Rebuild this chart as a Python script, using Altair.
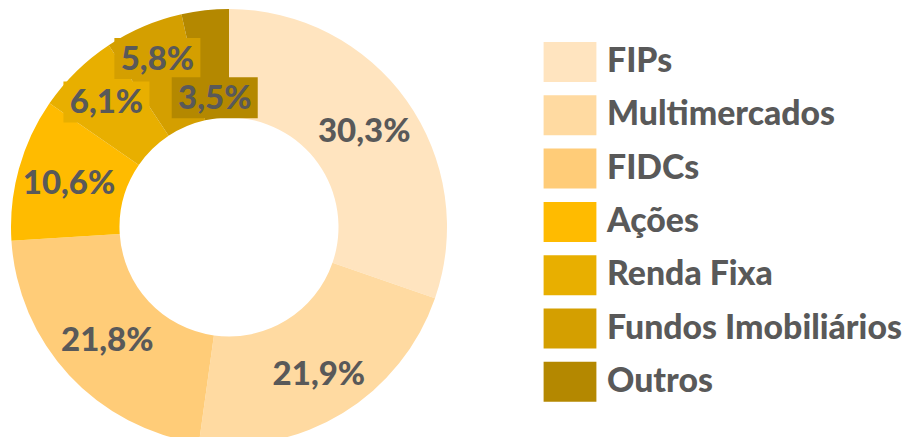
import math
import altair as alt
import pandas as pd

categories = ["FIPs", "Multimercados", "FIDCs", "Ações", "Renda Fixa", "Fundos Imobiliários", "Outros"]
values = [30.3, 21.9, 21.8, 10.6, 6.1, 5.8, 3.5]
labels = ["30,3%", "21,9%", "21,8%", "10,6%", "6,1%", "5,8%", "3,5%"]
label_radius = [166, 172, 166, 166, 175, 183, 130]
boxed = [False, False, False, False, True, True, True]
colors = ["#FFE4BF", "#FFDAA1", "#FFCC78", "#FFBB00", "#E8AF00", "#D49F00", "#B48800"]

CX, CY = 221, 219
R_OUT, R_IN = 218, 109.5
BOX_W, BOX_H = 86, 41

total = sum(values)
rows = []
cum = 0.0
for i, (c, v, lab, lr, bx) in enumerate(zip(categories, values, labels, label_radius, boxed)):
    mid = (cum + v / 2) / total * 2 * math.pi
    cum += v
    lx = CX + lr * math.sin(mid)
    ly = CY - lr * math.cos(mid)
    rows.append(dict(category=c, value=v, label=lab, idx=i, lx=lx, ly=ly,
                     bx1=lx - BOX_W / 2, bx2=lx + BOX_W / 2,
                     by1=ly - BOX_H / 2, by2=ly + BOX_H / 2, boxed=bx))
df = pd.DataFrame(rows)

color_scale = alt.Scale(domain=categories, range=colors)
rect_path = "M-1.32,-1H1.32V1H-1.32Z"

arcs = alt.Chart(df).mark_arc(innerRadius=R_IN, outerRadius=R_OUT, strokeWidth=0).encode(
    theta=alt.Theta("value:Q", stack=True),
    order=alt.Order("idx:Q"),
    color=alt.Color("category:N", scale=color_scale, sort=categories,
                    legend=alt.Legend(orient="none", legendX=542, legendY=34, title=None,
                                      symbolType=rect_path, symbolSize=1600, symbolStrokeWidth=0,
                                      symbolOpacity=1, labelFont="Lato", labelFontSize=33.8,
                                      labelFontWeight=900, labelColor="#595959",
                                      labelOffset=17, rowPadding=13.3, padding=0, labelLimit=0)),
    x=alt.value(CX),
    y=alt.value(CY),
)

boxes = alt.Chart(df).transform_filter("datum.boxed").mark_rect(strokeWidth=0).encode(
    x=alt.X("bx1:Q", scale=None),
    x2="bx2:Q",
    y=alt.Y("by1:Q", scale=None),
    y2="by2:Q",
    color=alt.Color("category:N", scale=color_scale, sort=categories, legend=None),
)

texts = alt.Chart(df).mark_text(font="Lato", fontSize=33, fontWeight=900, color="#595959",
                                align="center", baseline="middle", dy=1).encode(
    x=alt.X("lx:Q", scale=None),
    y=alt.Y("ly:Q", scale=None),
    text="label:N",
)

chart = alt.layer(arcs, boxes, texts).properties(
    width=899, height=429, padding=0, autosize=alt.AutoSizeParams(type="none")
).configure_view(stroke=None).configure_axis(disable=True)

chart.save("out.html", embed_options={"renderer": "svg", "actions": False})
